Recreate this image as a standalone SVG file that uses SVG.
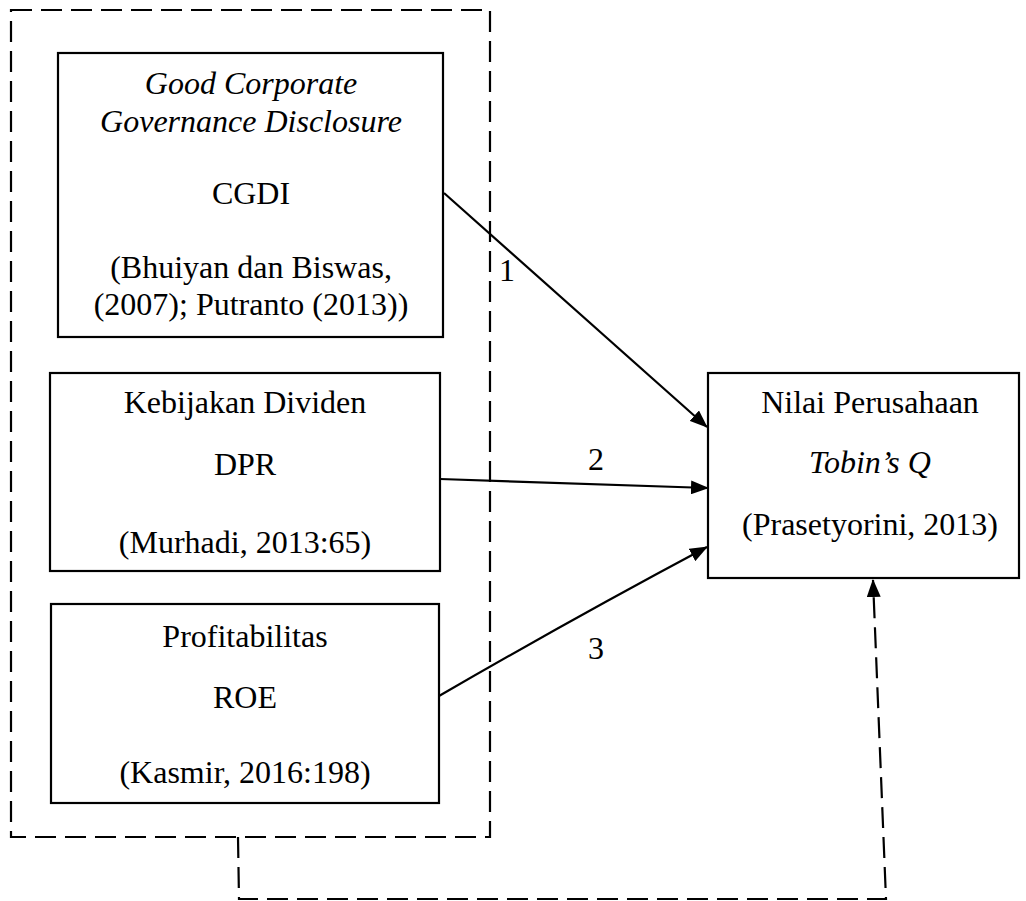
<svg xmlns="http://www.w3.org/2000/svg" width="1026" height="901" viewBox="0 0 1026 901">
<style>
.box{fill:#fff;stroke:#000;stroke-width:2.2}
.t{font-family:"Liberation Serif","Times New Roman",serif;font-size:32px;fill:#000;text-anchor:middle}
.i{font-style:italic}
.ln{fill:none;stroke:#000;stroke-width:2.2}
.dash{fill:none;stroke:#000;stroke-width:2.2;stroke-dasharray:21 9}
</style>
<defs>
<marker id="ah" markerUnits="userSpaceOnUse" markerWidth="18" markerHeight="14" refX="17" refY="7" orient="auto">
<path d="M0,0 L18,7 L0,14 Z" fill="#000"/>
</marker>
</defs>
<g id="group-outline">
<rect x="11" y="10" width="479" height="827" class="dash"/>
</g>
<g id="node-cgdi">
<rect x="58" y="53" width="385" height="284" class="box"/>
<text class="t i" x="251" y="94">Good Corporate</text>
<text class="t i" x="251" y="132">Governance Disclosure</text>
<text class="t" x="251" y="204">CGDI</text>
<text class="t" x="251" y="278">(Bhuiyan dan Biswas,</text>
<text class="t" x="251" y="315">(2007); Putranto (2013))</text>
</g>
<g id="node-dpr">
<rect x="50" y="373" width="390" height="198" class="box"/>
<text class="t" x="245" y="413">Kebijakan Dividen</text>
<text class="t" x="245" y="475">DPR</text>
<text class="t" x="245" y="553">(Murhadi, 2013:65)</text>
</g>
<g id="node-roe">
<rect x="51" y="604" width="388" height="199" class="box"/>
<text class="t" x="245" y="647">Profitabilitas</text>
<text class="t" x="245" y="708">ROE</text>
<text class="t" x="245" y="783">(Kasmir, 2016:198)</text>
</g>
<g id="node-nilai">
<rect x="708" y="373" width="311" height="205" class="box"/>
<text class="t" x="870" y="413">Nilai Perusahaan</text>
<text class="t i" x="870" y="473">Tobin’s Q</text>
<text class="t" x="870" y="535">(Prasetyorini, 2013)</text>
</g>
<g id="connectors">
<line x1="444" y1="193" x2="707" y2="427" class="ln" marker-end="url(#ah)"/>
<line x1="440" y1="479" x2="708" y2="488" class="ln" marker-end="url(#ah)"/>
<path d="M439,696 Q570,620 707,547" class="ln" marker-end="url(#ah)"/>
<path d="M238,837 L239,899 L886,899 L873,580" class="dash" stroke-dasharray="20 9" marker-end="url(#ah)"/>
<text class="t" x="507" y="281">1</text>
<text class="t" x="596" y="470">2</text>
<text class="t" x="596" y="659">3</text>
</g>
</svg>
